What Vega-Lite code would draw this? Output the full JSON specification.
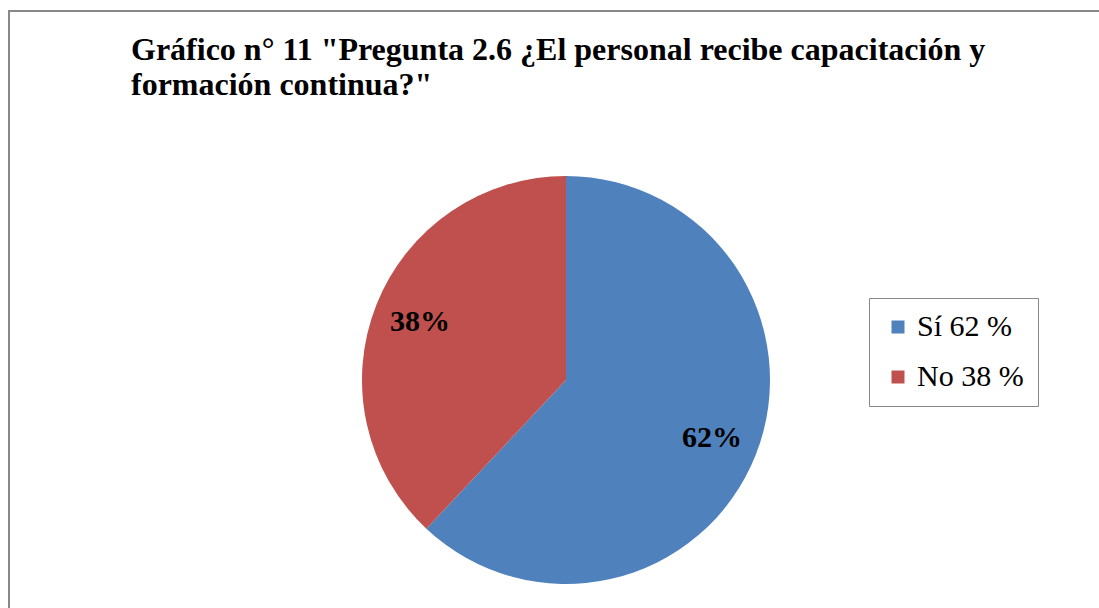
{
  "$schema": "https://vega.github.io/schema/vega-lite/v6.json",
  "autosize": "none",
  "width": 1114,
  "height": 738,
  "padding": {"left": 9, "top": 11, "right": -24, "bottom": -141},
  "background": "white",
  "title": {
    "text": ["Gráfico n° 11 \"Pregunta 2.6 ¿El personal recibe capacitación y", "formación continua?\""],
    "anchor": "start",
    "frame": "group",
    "font": "Liberation Serif",
    "fontSize": 32,
    "fontWeight": "bold",
    "color": "black",
    "baseline": "alphabetic",
    "lineHeight": 35,
    "dx": 122,
    "dy": 117,
    "offset": 0
  },
  "data": {
    "values": [
      {"label": "Sí 62 %", "pct": "62%", "value": 62, "order": 1},
      {"label": "No 38 %", "pct": "38%", "value": 38, "order": 2}
    ]
  },
  "layer": [
    {
      "data": {"values": [{}]},
      "mark": {"type": "rect", "fill": null, "stroke": "#888888", "strokeWidth": 2},
      "encoding": {}
    },
    {
      "mark": {"type": "arc", "outerRadius": 204},
      "encoding": {
        "theta": {"field": "value", "type": "quantitative", "stack": true},
        "order": {"field": "order", "type": "quantitative"},
        "color": {
          "field": "label",
          "type": "nominal",
          "sort": ["Sí 62 %", "No 38 %"],
          "scale": {"domain": ["Sí 62 %", "No 38 %"], "range": ["#4F81BD", "#C0504D"]},
          "legend": {
            "title": null,
            "orient": "none",
            "legendX": 860,
            "legendY": 287,
            "strokeColor": "#888888",
            "padding": 14,
            "symbolOffset": 0,
            "symbolType": "square",
            "symbolSize": 169,
            "symbolStrokeWidth": 0,
            "labelFont": "Liberation Serif",
            "labelFontSize": 30,
            "labelColor": "black",
            "labelOffset": 4,
            "rowPadding": 20
          }
        }
      }
    },
    {
      "mark": {"type": "text", "radius": 157, "font": "Liberation Serif", "fontSize": 30, "fontWeight": "bold", "color": "black"},
      "encoding": {
        "theta": {"field": "value", "type": "quantitative", "stack": true},
        "order": {"field": "order", "type": "quantitative"},
        "text": {"field": "pct"}
      }
    }
  ],
  "config": {
    "view": {"stroke": null}
  }
}
